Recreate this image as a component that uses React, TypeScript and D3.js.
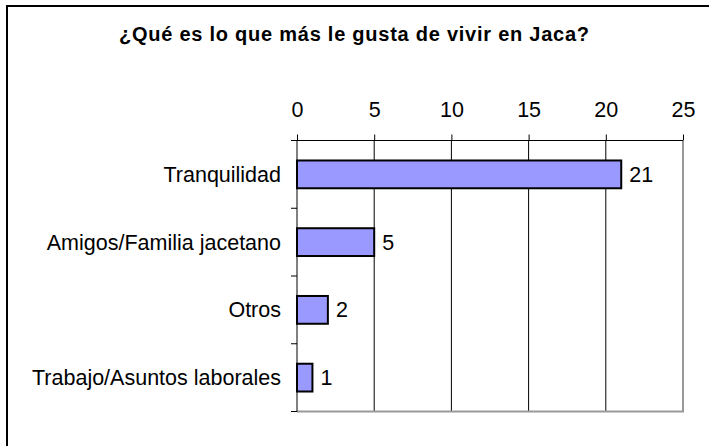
import React, { useEffect, useRef } from 'react';
import * as d3 from 'd3';

const title = '¿Qué es lo que más le gusta de vivir en Jaca?';
const categories = ['Tranquilidad', 'Amigos/Familia jacetano', 'Otros', 'Trabajo/Asuntos laborales'];
const values = [21, 5, 2, 1];
const xTicks = [0, 5, 10, 15, 20, 25];

const App = () => {
    const svgRef = useRef<SVGSVGElement>(null);

    const dimensions = {
        width: 709,
        height: 446,
        plot: { left: 297, top: 140.5, right: 683, bottom: 411.5 }
    };

    useEffect(() => {
        const svg = d3.select(svgRef.current);
        svg.selectAll('*').remove();

        const font = "'Liberation Sans', Arial, sans-serif";
        const labelSize = '21.5px';
        const { left, top, right, bottom } = dimensions.plot;

        // outer chart frame, runs off the right and bottom of the picture
        svg.append('rect')
            .attr('x', 7).attr('y', 6)
            .attr('width', 740).attr('height', 480)
            .attr('fill', '#fff')
            .attr('stroke', '#000')
            .attr('stroke-width', 2);

        svg.append('text')
            .attr('x', 354)
            .attr('y', 41)
            .attr('text-anchor', 'middle')
            .attr('textLength', 470)
            .attr('lengthAdjust', 'spacing')
            .style('font-family', font)
            .style('font-weight', 'bold')
            .style('font-size', '20px')
            .text(title);

        const xScale = d3.scaleLinear()
            .domain([0, 25])
            .range([left, right]);

        const yScale = d3.scaleBand()
            .domain(categories)
            .range([top, bottom])
            .paddingInner(0.59)
            .paddingOuter(0.295);

        const step = yScale.step();

        // gridlines
        svg.append('g')
            .selectAll('line')
            .data(xTicks.slice(1, -1))
            .join('line')
            .attr('x1', d => xScale(d)).attr('x2', d => xScale(d))
            .attr('y1', top).attr('y2', bottom)
            .attr('stroke', '#000')
            .attr('stroke-width', 1);

        // plot frame right & bottom (grey)
        svg.append('path')
            .attr('d', `M${right},${top}V${bottom}H${left}`)
            .attr('fill', 'none')
            .attr('stroke', '#999')
            .attr('stroke-width', 2);

        // top axis
        const xAxis = d3.axisTop(xScale)
            .tickValues(xTicks)
            .tickSize(6)
            .tickPadding(18)
            .tickFormat(d3.format('d'));

        const gx = svg.append('g')
            .attr('transform', `translate(0,${top})`)
            .call(xAxis);
        gx.select('.domain').attr('stroke', '#000').attr('d', `M${left - 6},0H${right}`);
        gx.selectAll('.tick line').attr('stroke', '#000');
        gx.selectAll('.tick text')
            .attr('fill', '#000')
            .style('font-family', font)
            .style('font-size', labelSize);

        // left axis
        const boundaries = d3.range(categories.length + 1).map(i => top + i * step);
        svg.append('line')
            .attr('x1', left).attr('x2', left)
            .attr('y1', top).attr('y2', bottom)
            .attr('stroke', '#000');
        svg.append('g')
            .selectAll('line')
            .data(boundaries)
            .join('line')
            .attr('x1', left - 6).attr('x2', left)
            .attr('y1', d => d).attr('y2', d => d)
            .attr('stroke', '#000');

        svg.append('g')
            .selectAll('text')
            .data(categories)
            .join('text')
            .attr('x', left - 16)
            .attr('y', d => (yScale(d) as number) + yScale.bandwidth() / 2)
            .attr('dy', '0.35em')
            .attr('text-anchor', 'end')
            .style('font-family', font)
            .style('font-size', labelSize)
            .text(d => d);

        // bars
        svg.append('g')
            .selectAll('rect')
            .data(values)
            .join('rect')
            .attr('x', xScale(0))
            .attr('y', (d, i) => yScale(categories[i]) as number)
            .attr('width', d => xScale(d) - xScale(0))
            .attr('height', yScale.bandwidth())
            .attr('fill', '#9999ff')
            .attr('stroke', '#000')
            .attr('stroke-width', 2);

        svg.append('g')
            .selectAll('text')
            .data(values)
            .join('text')
            .attr('x', d => xScale(d) + 8)
            .attr('y', (d, i) => (yScale(categories[i]) as number) + yScale.bandwidth() / 2)
            .attr('dy', '0.35em')
            .style('font-family', font)
            .style('font-size', labelSize)
            .text(d => d);
    }, []);

    return (
        <svg
            ref={svgRef}
            width={dimensions.width}
            height={dimensions.height}
            style={{ position: 'absolute', left: 0, top: 0, background: '#fff' }}
        />
    );
};

export default App;
